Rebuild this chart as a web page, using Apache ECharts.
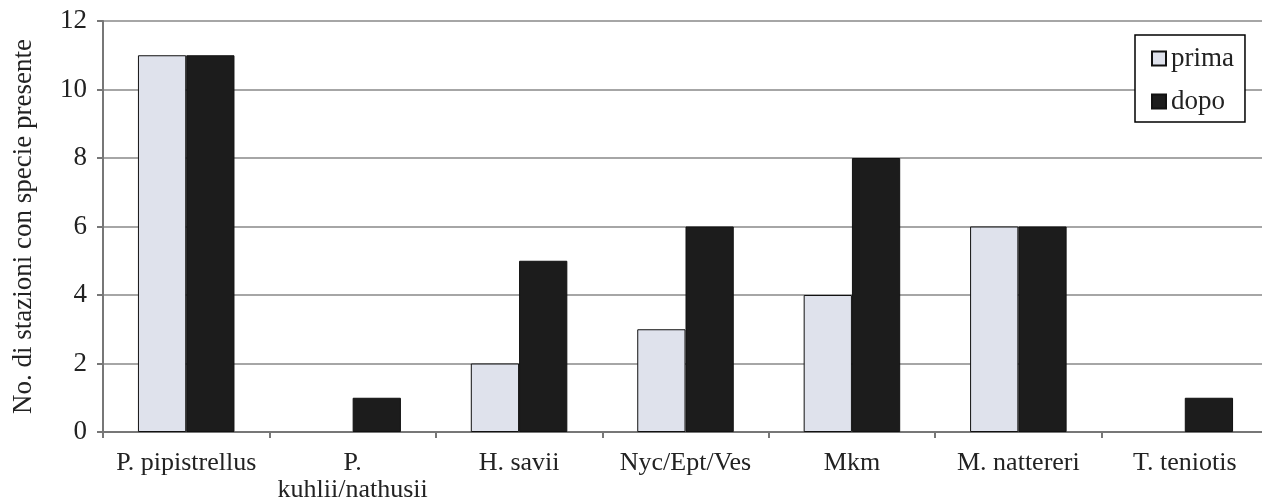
<!DOCTYPE html>
<html><head><meta charset="utf-8">
<script src="https://cdn.jsdelivr.net/npm/echarts@6/dist/echarts.min.js"></script>
<style>html,body{margin:0;padding:0;background:#fff}#c{width:1262px;height:501px}</style>
</head><body><div id="c"></div>
<script>
const categories = ['P. pipistrellus','P.\nkuhlii/nathusii','H. savii','Nyc/Ept/Ves','Mkm','M. nattereri','T. teniotis'];
const prima = [11, 0, 2, 3, 4, 6, 0];
const dopo = [11, 1, 5, 6, 8, 6, 1];
const yTicks = {min: 0, max: 12, interval: 2};
const font = 'Liberation Serif';
const toData = arr => arr.map(v => v === 0 ? {value: v, itemStyle: {borderWidth: 0}} : v);
const chart = echarts.init(document.getElementById('c'));
chart.setOption({
  animation: false,
  textStyle: {fontFamily: font},
  grid: {left: 103, right: -6, top: 21, bottom: 69, outerBoundsMode: 'none', containLabel: false},
  legend: {
    orient: 'vertical', left: 1135, top: 35,
    padding: [10, 11, 7, 16], itemGap: 16,
    itemWidth: 14, itemHeight: 14, icon: 'rect',
    borderColor: '#000', borderWidth: 1.5, backgroundColor: '#fff',
    textStyle: {fontFamily: font, fontSize: 27, color: '#222'},
    data: ['prima','dopo']
  },
  xAxis: {
    type: 'category', data: categories,
    axisLine: {lineStyle: {color: '#777', width: 2}},
    axisTick: {show: true, length: 6, lineStyle: {color: '#777', width: 2}},
    axisLabel: {fontFamily: font, fontSize: 26, color: '#222', margin: 18, lineHeight: 27, interval: 0}
  },
  yAxis: {
    type: 'value', min: yTicks.min, max: yTicks.max, interval: yTicks.interval,
    name: 'No. di stazioni con specie presente', nameLocation: 'middle', nameGap: 66,
    nameTextStyle: {fontFamily: font, fontSize: 27, color: '#222'},
    axisLine: {show: true, lineStyle: {color: '#777', width: 2}},
    axisTick: {show: true, length: 6, lineStyle: {color: '#777', width: 2}},
    axisLabel: {fontFamily: font, fontSize: 27, color: '#222', margin: 16},
    splitLine: {lineStyle: {color: '#888', width: 1.5}}
  },
  series: [
    {name: 'prima', type: 'bar', data: toData(prima), barGap: '0%', barCategoryGap: '42%',
     itemStyle: {color: '#dfe2ec', borderColor: '#111', borderWidth: 1}},
    {name: 'dopo', type: 'bar', data: toData(dopo),
     itemStyle: {color: '#1c1c1c', borderColor: '#111', borderWidth: 1}}
  ]
});
</script></body></html>
